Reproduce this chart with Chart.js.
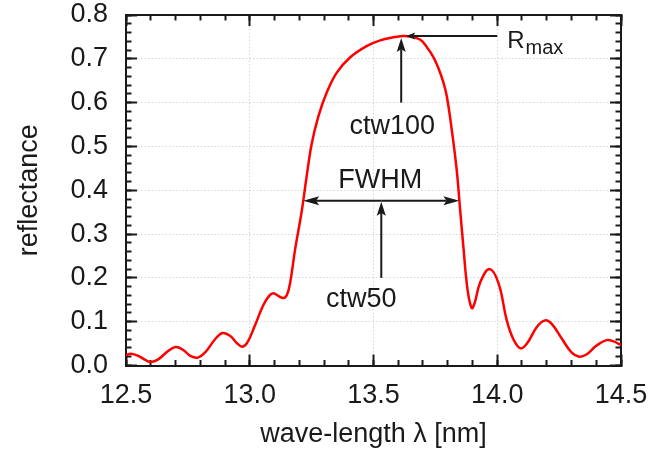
<!DOCTYPE html>
<html>
<head>
<meta charset="utf-8">
<title>reflectance</title>
<script src="https://cdn.jsdelivr.net/npm/chart.js@4"></script>
<style>
  html, body { margin: 0; padding: 0; background: #fff; }
  canvas { display: block; }
</style>
</head>
<body>
<canvas id="reflChart" width="654" height="454"></canvas>
<script>
// Muestras de la curva: longitud de onda (nm) y reflectancia
const wavelength = [
  12.50, 12.52, 12.55, 12.58, 12.60, 12.63, 12.67, 12.70, 12.73, 12.76,
  12.79, 12.82, 12.86, 12.89, 12.92, 12.95, 12.97, 12.99, 13.02, 13.055,
  13.08, 13.095, 13.115, 13.136, 13.15, 13.163, 13.183, 13.21, 13.23, 13.25,
  13.277, 13.311, 13.351, 13.405, 13.472, 13.527, 13.58, 13.62, 13.647, 13.688,
  13.715, 13.742, 13.762, 13.782, 13.796, 13.816, 13.836, 13.85, 13.863, 13.88,
  13.897, 13.91, 13.93, 13.968, 14.005, 14.038, 14.065, 14.094, 14.12, 14.16,
  14.193, 14.22, 14.26, 14.30, 14.331, 14.36, 14.40, 14.442, 14.47, 14.50
];
const reflectance = [
  0.024, 0.027, 0.022, 0.012, 0.008, 0.014, 0.033, 0.042, 0.036, 0.022,
  0.018, 0.030, 0.060, 0.074, 0.068, 0.050, 0.043, 0.052, 0.090, 0.138,
  0.160, 0.165, 0.159, 0.154, 0.161, 0.188, 0.264, 0.352, 0.432, 0.505,
  0.568, 0.623, 0.668, 0.703, 0.729, 0.742, 0.749, 0.752, 0.751, 0.744,
  0.727, 0.704, 0.679, 0.647, 0.615, 0.539, 0.447, 0.356, 0.272, 0.173,
  0.131, 0.145, 0.188, 0.220, 0.188, 0.104, 0.060, 0.039, 0.050, 0.088,
  0.103, 0.095, 0.062, 0.030, 0.020, 0.025, 0.045, 0.058, 0.055, 0.047
];

// Marcas principales de los ejes
const xTicks = [12.5, 13.0, 13.5, 14.0, 14.5];
const yTicks = [0.0, 0.1, 0.2, 0.3, 0.4, 0.5, 0.6, 0.7, 0.8];

const FONT = '"Liberation Sans", Arial, Helvetica, sans-serif';
const INK = '#1a1a1a';

// Máximo y cruces a media altura (FWHM)
const rMax = Math.max(...reflectance);
const peakIdx = reflectance.indexOf(rMax);
const peakX = wavelength[peakIdx];
const half = rMax / 2;

function crossing(from, to) {
  const dir = from < to ? 1 : -1;
  for (let i = from; i !== to; i += dir) {
    const a = reflectance[i], b = reflectance[i + dir];
    if ((a - half) * (b - half) <= 0) {
      return wavelength[i] + (half - a) / (b - a) * (wavelength[i + dir] - wavelength[i]);
    }
  }
  return wavelength[from];
}
const halfLeft = crossing(peakIdx, 0);
const halfRight = crossing(peakIdx, reflectance.length - 1);

// Flecha con punta rellena en (x2, y2)
function drawArrow(ctx, x1, y1, x2, y2, len, hw) {
  const a = Math.atan2(y2 - y1, x2 - x1);
  const c = Math.cos(a), s = Math.sin(a);
  const bx = x2 - len * c, by = y2 - len * s;
  const nx = x2 - len * 0.8 * c, ny = y2 - len * 0.8 * s;
  ctx.beginPath();
  ctx.moveTo(x1, y1);
  ctx.lineTo(nx, ny);
  ctx.stroke();
  ctx.beginPath();
  ctx.moveTo(x2, y2);
  ctx.lineTo(bx - hw * s, by + hw * c);
  ctx.lineTo(nx, ny);
  ctx.lineTo(bx + hw * s, by - hw * c);
  ctx.closePath();
  ctx.fill();
}

// Anotaciones: Rmax, ctw100, FWHM y ctw50
const annotations = {
  id: 'annotations',
  afterDatasetsDraw(chart) {
    const { ctx, scales: { x, y } } = chart;
    const px = x.getPixelForValue(peakX);
    const py = y.getPixelForValue(rMax);
    const hy = y.getPixelForValue(half);
    const hl = x.getPixelForValue(halfLeft);
    const hr = x.getPixelForValue(halfRight);
    const mid = (hl + hr) / 2;

    ctx.save();
    ctx.strokeStyle = INK;
    ctx.fillStyle = INK;
    ctx.lineWidth = 2;

    // Rmax
    const rEnd = x.getPixelForValue(14.0);
    drawArrow(ctx, rEnd, py, px + 3, py, 9, 3.5);
    ctx.textAlign = 'left';
    ctx.textBaseline = 'alphabetic';
    ctx.font = '24px ' + FONT;
    const rx = rEnd + 10;
    ctx.fillText('R', rx, py + 12);
    const rw = ctx.measureText('R').width;
    ctx.font = '20px ' + FONT;
    ctx.fillText('max', rx + rw + 1, py + 18);

    // ctw100
    const y60 = y.getPixelForValue(0.6);
    drawArrow(ctx, px - 2, y60, px - 2, py + 2, 14, 4.5);
    ctx.font = '27px ' + FONT;
    ctx.textAlign = 'center';
    ctx.textBaseline = 'middle';
    ctx.fillText('ctw100', px - 11, y60 + 24);

    // FWHM
    drawArrow(ctx, mid, hy, hl, hy, 16, 4.5);
    drawArrow(ctx, mid, hy, hr, hy, 16, 4.5);
    ctx.fillText('FWHM', mid - 1, hy - 20);

    // ctw50
    const y20 = y.getPixelForValue(0.2);
    drawArrow(ctx, mid, y20, mid, hy + 1, 14, 4.5);
    ctx.fillText('ctw50', mid - 20, y20 + 22);

    ctx.restore();
  }
};

// Tamaño fijo de cada eje, sin relleno extra por las etiquetas
function fixSize(size) {
  return s => {
    if (s.isHorizontal()) s.height = size; else s.width = size;
    s.paddingLeft = s.paddingRight = s.paddingTop = s.paddingBottom = 0;
  };
}

// Ejes secundarios solo para las marcas (menores y espejo arriba/derecha)
function tickAxis(position, step, len, size, weight, border) {
  const horizontal = position === 'top' || position === 'bottom';
  return {
    type: 'linear',
    position: position,
    weight: weight,
    min: horizontal ? 12.5 : 0,
    max: horizontal ? 14.5 : 0.8,
    ticks: { display: false, stepSize: step },
    grid: { drawOnChartArea: false, tickLength: -len, tickColor: INK, tickWidth: 2 },
    border: { display: border, color: INK, width: 2 },
    afterFit: fixSize(size)
  };
}

new Chart(document.getElementById('reflChart'), {
  type: 'line',
  data: {
    datasets: [{
      data: wavelength.map((w, i) => ({ x: w, y: reflectance[i] })),
      borderColor: '#ff0000',
      borderWidth: 2.5,
      pointRadius: 0,
      fill: false,
      tension: 0.4
    }]
  },
  options: {
    responsive: false,
    animation: false,
    devicePixelRatio: 1,
    layout: { padding: 0, autoPadding: false },
    plugins: { legend: { display: false }, tooltip: { enabled: false } },
    scales: {
      x: {
        type: 'linear',
        position: 'bottom',
        weight: 1,
        min: 12.5,
        max: 14.5,
        afterBuildTicks: s => { s.ticks = xTicks.map(v => ({ value: v })); },
        ticks: {
          font: { family: FONT, size: 27, lineHeight: 1 },
          color: INK,
          padding: 28,
          autoSkip: false,
          maxRotation: 0,
          callback: v => v.toFixed(1)
        },
        grid: { color: '#d6d6d6', lineWidth: 1, tickLength: -11, tickColor: INK, tickWidth: 2 },
        border: { color: INK, width: 2, dash: [1.5, 2] },
        title: {
          display: true,
          text: 'wave-length λ [nm]',
          color: INK,
          font: { family: FONT, size: 27 },
          padding: { top: 0, bottom: 2.8 }
        },
        afterFit: fixSize(88.5)
      },
      y: {
        type: 'linear',
        position: 'left',
        weight: 1,
        min: 0,
        max: 0.8,
        afterBuildTicks: s => { s.ticks = yTicks.map(v => ({ value: v })); },
        ticks: {
          font: { family: FONT, size: 27, lineHeight: 1 },
          color: INK,
          padding: 29,
          callback: v => v.toFixed(1)
        },
        grid: { color: '#d6d6d6', lineWidth: 1, tickLength: -11, tickColor: INK, tickWidth: 2 },
        border: { color: INK, width: 2, dash: [1.5, 2] },
        title: {
          display: true,
          text: 'reflectance',
          color: INK,
          font: { family: FONT, size: 27 },
          padding: { top: 13.3, bottom: 0 }
        },
        afterFit: fixSize(126)
      },
      xMinor: tickAxis('bottom', 0.1, 5.5, 0, 0, false),
      xTop: tickAxis('top', 0.5, 11, 15, 1, true),
      xTopMinor: tickAxis('top', 0.1, 5.5, 0, 0, false),
      yMinor: tickAxis('left', 0.02, 5.5, 0, 0, false),
      yRight: tickAxis('right', 0.1, 11, 33, 1, true),
      yRightMinor: tickAxis('right', 0.02, 5.5, 0, 0, false)
    }
  },
  plugins: [annotations]
});
</script>
</body>
</html>
